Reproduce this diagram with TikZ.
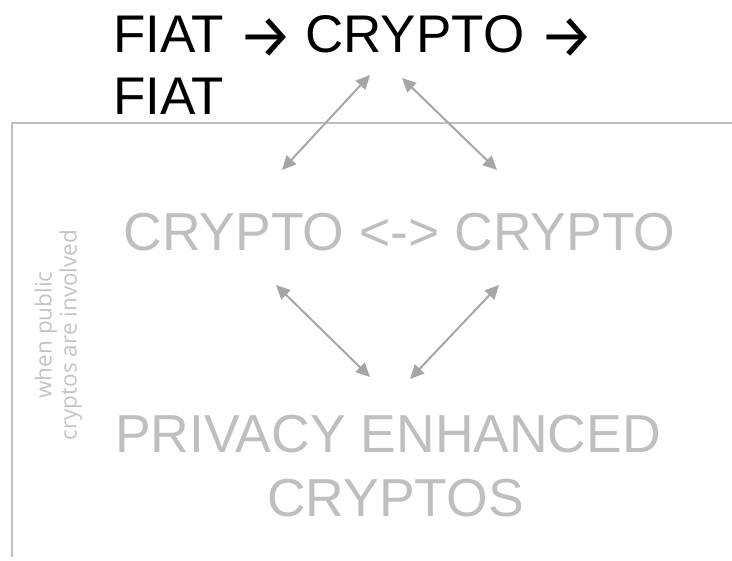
\documentclass[tikz,border=0pt]{standalone}
\usepackage{graphicx}
\usepackage{fontspec}
\setmainfont{Liberation Sans}
\newfontfamily\sidefont{Open Sans}
\newfontfamily\arrowfont{Fira Sans}
\newcommand\titlearrow{\raisebox{-4.5pt}{\scalebox{1.15}{\arrowfont →}}}
\usetikzlibrary{arrows.meta}
\definecolor{txtgray}{HTML}{BFBFBF}
\definecolor{arrgray}{HTML}{A6A6A6}
\definecolor{framegray}{HTML}{BFBFBF}
\definecolor{sidegray}{HTML}{C4C4C4}
\tikzset{
  titletext/.style={inner sep=0pt, text=black, font=\fontsize{53}{62}\selectfont},
  bigtext/.style={inner sep=0pt, text=txtgray, font=\fontsize{53.5}{64}\selectfont},
  sidetext/.style={inner sep=0pt, text=sidegray, rotate=90, font=\sidefont\fontsize{22.5}{25}\selectfont},
  link/.style={draw=arrgray, line width=2pt, {Triangle[length=14pt,width=13pt]}-{Triangle[length=14pt,width=13pt]}},
  frame/.style={draw=framegray, line width=1.5pt}
}
\begin{document}
\begin{tikzpicture}[x=1pt,y=-1pt]
\useasboundingbox (0,0) rectangle (732,561);
% frame
\coordinate (fr1) at (12,123);
\coordinate (fr2) at (732,123);
\coordinate (fr3) at (12,557);
\draw[frame] (fr2) -- (fr1) -- (fr3);
% title
\node[titletext, anchor=base west] (title1) at (113,53) {FIAT \titlearrow\kern-3pt{} CRYPTO \titlearrow};
\node[titletext, anchor=base west] (title2) at (113,115) {FIAT};
% middle
\node[bigtext, anchor=base] (mid) at (399.5,251) {CRYPTO <-> CRYPTO};
% bottom
\node[bigtext, anchor=base] (priv1) at (388,453) {PRIVACY ENHANCED};
\node[bigtext, anchor=base] (priv2) at (395.5,517) {CRYPTOS};
% side note
\node[sidetext, anchor=base] (side1) at (51.5,335) {when public};
\node[sidetext, anchor=base] (side2) at (76.5,335) {cryptos are involved};
% arrows
\coordinate (a1s) at (282,170);
\coordinate (a1e) at (370,75);
\coordinate (a2s) at (402,78);
\coordinate (a2e) at (497,170);
\coordinate (a3s) at (276,285);
\coordinate (a3e) at (370,377);
\coordinate (a4s) at (499,285);
\coordinate (a4e) at (410,379);
\draw[link] (a1s) -- (a1e);
\draw[link] (a2s) -- (a2e);
\draw[link] (a3s) -- (a3e);
\draw[link] (a4s) -- (a4e);
\end{tikzpicture}
\end{document}
